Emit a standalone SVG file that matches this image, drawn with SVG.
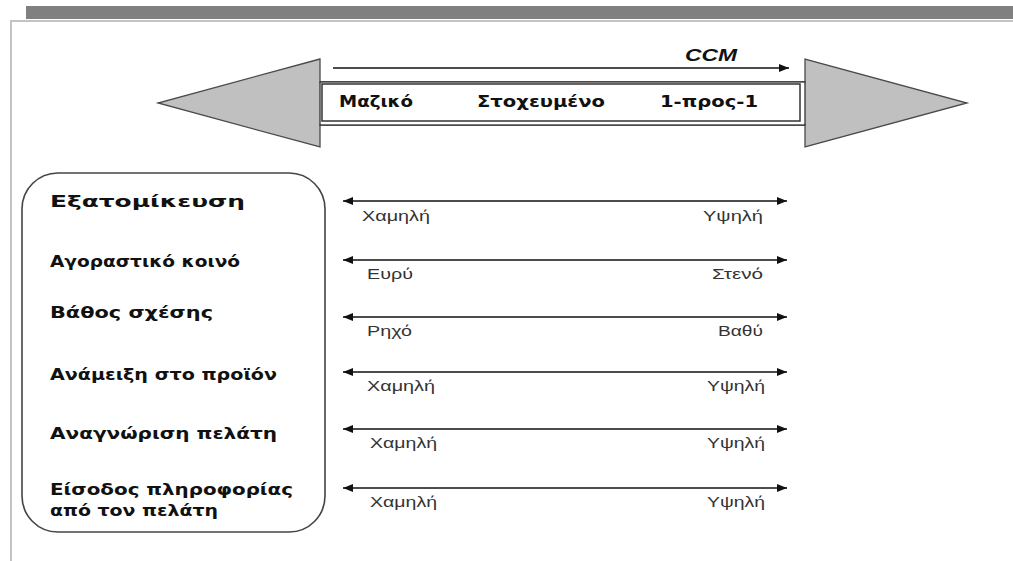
<svg xmlns="http://www.w3.org/2000/svg" width="1013" height="561" viewBox="0 0 1013 561">
  <style>
    .frame { stroke: #c3c3c3; stroke-width: 2; fill: none; }
    .band { fill: #808080; }
    .head { fill: #c0c0c0; stroke: #4a4a4a; stroke-width: 1.3; }
    .shaft { fill: #ffffff; stroke: #333333; stroke-width: 1.3; }
    .inner { fill: #ffffff; stroke: #333333; stroke-width: 1.5; }
    .conn { stroke: #111111; stroke-width: 1.3; fill: none; }
    .stage { font-family: "DejaVu Sans", "Liberation Sans", sans-serif; font-weight: bold; font-size: 15px; fill: #111111; }
    .ccm { font-family: "Liberation Sans", Arial, sans-serif; font-weight: bold; font-style: italic; font-size: 16px; fill: #111111; }
    .dim { font-family: "DejaVu Sans", "Liberation Sans", sans-serif; font-weight: bold; font-size: 16px; fill: #111111; }
    .end { font-family: "Liberation Sans", Arial, sans-serif; font-size: 14px; fill: #333333; }
    .box { fill: #ffffff; stroke: #444444; stroke-width: 1.6; }
  </style>
  <defs>
    <marker id="tip" viewBox="0 0 10 8" refX="10" refY="4" markerWidth="10" markerHeight="8" markerUnits="userSpaceOnUse" orient="auto-start-reverse">
      <path d="M0,0 L10,4 L0,8 Z" fill="#111111"/>
    </marker>
  </defs>

  <rect width="1013" height="561" fill="#ffffff"/>

  <!-- page band and frame -->
  <rect class="band" x="26" y="6" width="987" height="13"/>
  <path class="frame" d="M11,561 L11,21 L1013,21"/>

  <!-- spectrum double arrow -->
  <g id="spectrum">
    <polygon class="head" points="320,59 158,103 320,147 320,125 805,125 805,147 967,103 805,59 805,82 320,82"/>
    <rect class="shaft" x="320" y="82" width="485" height="43"/>
    <rect class="inner" x="322" y="84" width="478" height="37"/>
    <text class="stage" x="339" y="107" textLength="74" lengthAdjust="spacingAndGlyphs">Μαζικό</text>
    <text class="stage" x="477" y="107" textLength="128" lengthAdjust="spacingAndGlyphs">Στοχευμένο</text>
    <text class="stage" x="660" y="107" textLength="98" lengthAdjust="spacingAndGlyphs">1-προς-1</text>
  </g>

  <!-- CCM label -->
  <g id="ccm">
    <text class="ccm" x="685" y="61" textLength="52" lengthAdjust="spacingAndGlyphs">CCM</text>
  </g>

  <!-- dimensions box -->
  <g id="dimensions">
    <rect class="box" x="22" y="173" width="303" height="359" rx="36" ry="36"/>
    <text class="dim" x="50" y="207" textLength="195" lengthAdjust="spacingAndGlyphs">Εξατομίκευση</text>
    <text class="dim" x="50" y="267" textLength="190" lengthAdjust="spacingAndGlyphs">Αγοραστικό κοινό</text>
    <text class="dim" x="50" y="318" textLength="163" lengthAdjust="spacingAndGlyphs">Βάθος σχέσης</text>
    <text class="dim" x="50" y="380" textLength="227" lengthAdjust="spacingAndGlyphs">Ανάμειξη στο προϊόν</text>
    <text class="dim" x="50" y="439" textLength="227" lengthAdjust="spacingAndGlyphs">Αναγνώριση πελάτη</text>
    <text class="dim" x="50" y="495" textLength="243" lengthAdjust="spacingAndGlyphs">Είσοδος πληροφορίας</text>
    <text class="dim" x="50" y="516" textLength="168" lengthAdjust="spacingAndGlyphs">από τον πελάτη</text>
  </g>

  <!-- scale end labels -->
  <g id="scale-labels">
    <text class="end" x="362" y="221" textLength="68" lengthAdjust="spacingAndGlyphs">Χαμηλή</text>
    <text class="end" x="703" y="221" textLength="60" lengthAdjust="spacingAndGlyphs">Υψηλή</text>
    <text class="end" x="367" y="279" textLength="46" lengthAdjust="spacingAndGlyphs">Ευρύ</text>
    <text class="end" x="712" y="279" textLength="51" lengthAdjust="spacingAndGlyphs">Στενό</text>
    <text class="end" x="367" y="336" textLength="45" lengthAdjust="spacingAndGlyphs">Ρηχό</text>
    <text class="end" x="718" y="336" textLength="45" lengthAdjust="spacingAndGlyphs">Βαθύ</text>
    <text class="end" x="367" y="391" textLength="68" lengthAdjust="spacingAndGlyphs">Χαμηλή</text>
    <text class="end" x="707" y="391" textLength="58" lengthAdjust="spacingAndGlyphs">Υψηλή</text>
    <text class="end" x="370" y="448" textLength="67" lengthAdjust="spacingAndGlyphs">Χαμηλή</text>
    <text class="end" x="707" y="448" textLength="58" lengthAdjust="spacingAndGlyphs">Υψηλή</text>
    <text class="end" x="370" y="507" textLength="67" lengthAdjust="spacingAndGlyphs">Χαμηλή</text>
    <text class="end" x="707" y="507" textLength="58" lengthAdjust="spacingAndGlyphs">Υψηλή</text>
  </g>

  <!-- connectors -->
  <g id="connectors">
    <line class="conn" x1="333" y1="68" x2="789" y2="68" marker-end="url(#tip)"/>
    <line class="conn" x1="343" y1="201" x2="787" y2="201" marker-start="url(#tip)" marker-end="url(#tip)"/>
    <line class="conn" x1="343" y1="260" x2="787" y2="260" marker-start="url(#tip)" marker-end="url(#tip)"/>
    <line class="conn" x1="343" y1="317" x2="787" y2="317" marker-start="url(#tip)" marker-end="url(#tip)"/>
    <line class="conn" x1="343" y1="372" x2="787" y2="372" marker-start="url(#tip)" marker-end="url(#tip)"/>
    <line class="conn" x1="343" y1="429" x2="787" y2="429" marker-start="url(#tip)" marker-end="url(#tip)"/>
    <line class="conn" x1="343" y1="488" x2="787" y2="488" marker-start="url(#tip)" marker-end="url(#tip)"/>
  </g>
</svg>
